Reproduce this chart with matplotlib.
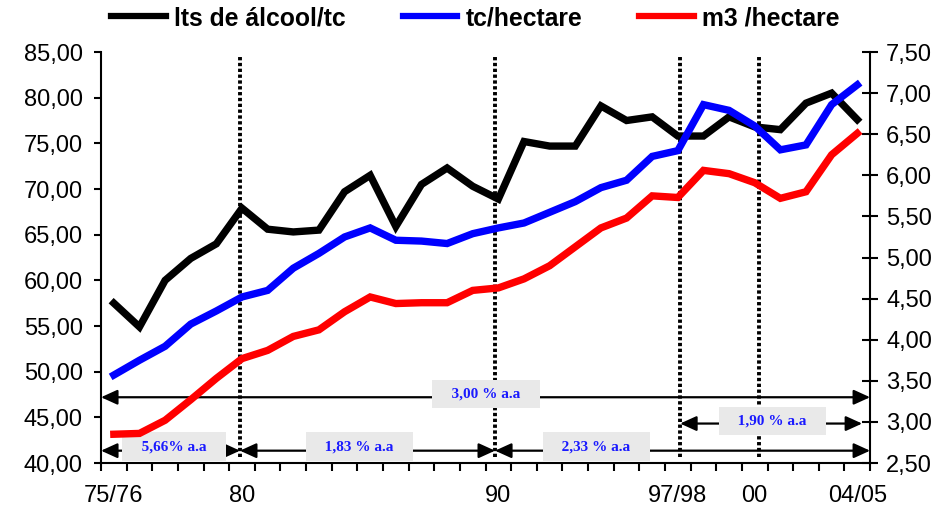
import matplotlib
matplotlib.use('Agg')
import matplotlib.pyplot as plt
from matplotlib.ticker import FixedLocator, FuncFormatter

# safras 1975/76 a 2004/05
seasons = ['75/76', '76/77', '77/78', '78/79', '79/80', '80/81', '81/82', '82/83',
           '83/84', '84/85', '85/86', '86/87', '87/88', '88/89', '89/90', '90/91',
           '91/92', '92/93', '93/94', '94/95', '95/96', '96/97', '97/98', '98/99',
           '99/00', '00/01', '01/02', '02/03', '03/04', '04/05']

# litros de alcool por tonelada de cana (eixo esquerdo)
alcool_tc = [57.5, 54.9, 60.0, 62.4, 64.0, 67.9, 65.6, 65.3, 65.5, 69.7,
             71.5, 65.9, 70.5, 72.3, 70.3, 68.9, 75.2, 74.7, 74.7, 79.1,
             77.5, 77.9, 75.8, 75.8, 77.9, 76.8, 76.5, 79.4, 80.5, 77.6]

# toneladas de cana por hectare (eixo direito)
tc_hectare = [3.57, 3.75, 3.92, 4.19, 4.35, 4.52, 4.60, 4.87, 5.05, 5.25,
              5.36, 5.21, 5.20, 5.17, 5.29, 5.36, 5.42, 5.55, 5.68, 5.85,
              5.94, 6.23, 6.30, 6.86, 6.79, 6.60, 6.31, 6.37, 6.86, 7.10]

# m3 de alcool por hectare (eixo direito)
m3_hectare = [2.85, 2.86, 3.02, 3.27, 3.53, 3.77, 3.87, 4.04, 4.12, 4.34,
              4.52, 4.44, 4.45, 4.45, 4.60, 4.63, 4.74, 4.90, 5.13, 5.36,
              5.48, 5.75, 5.73, 6.06, 6.02, 5.91, 5.72, 5.80, 6.25, 6.51]

# safras rotuladas no eixo x
shown_seasons = ['75/76', '80/81', '90/91', '97/98', '00/01', '04/05']
shown_labels = ['75/76', '80', '90', '97/98', '00', '04/05']

# taxas de crescimento por periodo
growth_labels = ['5,66% a.a', '1,83 % a.a', '2,33 % a.a', '3,00 % a.a', '1,90 % a.a']

plt.rcParams['font.family'] = ['Liberation Sans', 'DejaVu Sans']

fig = plt.figure(figsize=(9.53, 5.16), dpi=100)
ax = fig.add_axes([0.106, 0.1027, 0.807, 0.7965])
ax2 = ax.twinx()

x = list(range(len(seasons)))

ax.plot(x, alcool_tc, color='black', lw=5.3, solid_joinstyle='miter', zorder=3,
        label='lts de álcool/tc')
ax2.plot(x, tc_hectare, color='#0000ff', lw=5.3, solid_joinstyle='miter', zorder=3,
         label='tc/hectare')
ax2.plot(x, m3_hectare, color='#ff0000', lw=5.3, solid_joinstyle='miter', zorder=3,
         label='m3 /hectare')

ax.set_xlim(-0.5, len(seasons) - 0.5)
ax.set_ylim(40, 85)
ax2.set_ylim(2.5, 7.5)

comma = FuncFormatter(lambda v, p: f'{v:.2f}'.replace('.', ','))
ax.set_yticks([40 + 5 * k for k in range(10)])
ax2.set_yticks([2.5 + 0.5 * k for k in range(11)])
ax.yaxis.set_major_formatter(comma)
ax2.yaxis.set_major_formatter(comma)

ax.set_xticks([seasons.index(s) for s in shown_seasons])
ax.set_xticklabels(shown_labels)
ax.xaxis.set_minor_locator(FixedLocator([k - 0.5 for k in range(len(seasons) + 1)]))

ax.tick_params(axis='x', which='major', length=0, pad=16, labelsize=17)
ax.tick_params(axis='x', which='minor', direction='out', length=6, width=1.5)
ax.tick_params(axis='y', direction='out', length=5, width=1.5, pad=8, labelsize=17)
ax2.tick_params(axis='y', direction='inout', length=11, width=1.5, pad=6, labelsize=17)

for a in (ax, ax2):
    a.spines['top'].set_visible(False)
    for s in a.spines.values():
        s.set_linewidth(1.5)
ax.spines['right'].set_visible(False)
ax2.spines['left'].set_visible(False)
ax2.spines['bottom'].set_visible(False)
ax2.patch.set_visible(False)

# linhas pontilhadas separando os periodos
for xv in [4.92, 14.87, 22.09, 25.17]:
    ax.axvline(xv, ymin=0.015, ymax=0.988, color='black', lw=2.8,
               linestyle=(0, (0.85, 0.65)), dash_capstyle='butt', zorder=1)

# setas dos periodos (y no eixo direito)
arrow_style = '<|-|>,head_length=0.55,head_width=0.25'
spans = [(-0.5, 4.92, 2.65), (4.92, 14.87, 2.65), (14.87, 29.5, 2.65),
         (-0.5, 29.5, 3.30), (22.09, 29.19, 2.98)]
box_pos = [(2.35, 2.70), (9.57, 2.70), (18.81, 2.70), (14.52, 3.34), (25.68, 3.01)]

for (x0, x1, yv), (bx, by), txt in zip(spans, box_pos, growth_labels):
    ax.annotate('', xy=(x0, yv), xytext=(x1, yv),
                xycoords=ax2.transData, textcoords=ax2.transData,
                arrowprops=dict(arrowstyle=arrow_style, color='black', lw=1.6,
                                shrinkA=0, shrinkB=0, mutation_scale=18),
                zorder=2)
    ax.text(bx, by, '   ' + txt + '   ', transform=ax2.transData,
            ha='center', va='center', fontsize=11, fontweight='bold',
            family=['Liberation Serif', 'DejaVu Serif'], color='#1a1aff',
            bbox=dict(boxstyle='square,pad=0.5', fc='#e9e9e9', ec='none'),
            zorder=2.5)

h1, l1 = ax.get_legend_handles_labels()
h2, l2 = ax2.get_legend_handles_labels()
leg = fig.legend(h1 + h2, l1 + l2, loc='center', bbox_to_anchor=(0.499, 0.965),
                 ncol=3, frameon=False, handlelength=2.2, handletextpad=0.35,
                 columnspacing=2.3, prop={'weight': 'bold', 'size': 17.8})
for line in leg.get_lines():
    line.set_linewidth(4.5)

fig.savefig('out.png', dpi=100)
